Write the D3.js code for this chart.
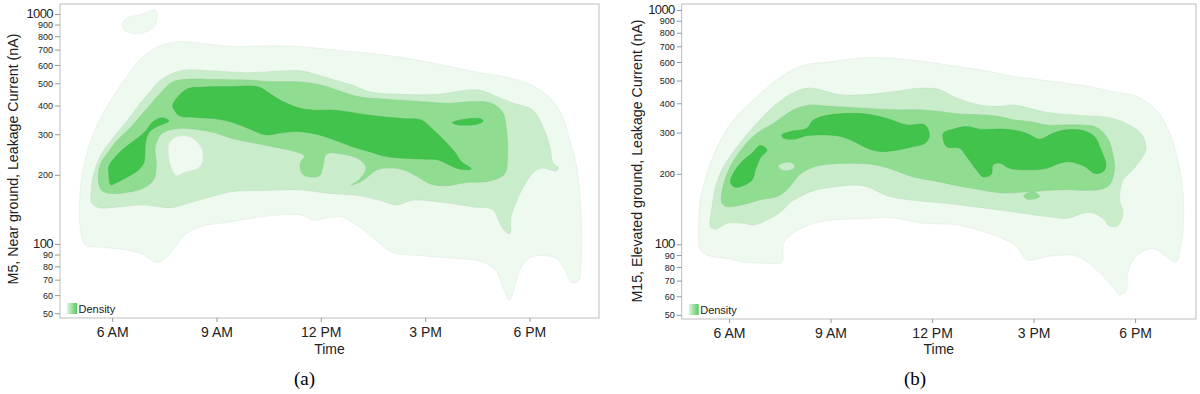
<!DOCTYPE html>
<html>
<head>
<meta charset="utf-8">
<script src="https://d3js.org/d3.v7.min.js"></script>
<style>
  body { margin: 0; background: #fff; }
  svg { display: block; font-family: "Liberation Sans", Arial, sans-serif; }
</style>
</head>
<body>
<script>
// ticks and labels
const times = [6, 9, 12, 15, 18];
const timeLabels = ["6 AM", "9 AM", "12 PM", "3 PM", "6 PM"];
const currentTicks = [50, 60, 70, 80, 90, 100, 200, 300, 400, 500, 600, 700, 800, 900, 1000];
const levelColors = ["#eef9ef", "#c9edca", "#90dd92", "#42c34c"];

// contour outlines, [hour of day, leakage current nA]
// (a) M5, near ground
const aL1 = [[6.94,664],[7.44,733],[7.94,758],[8.63,745],[9.43,722],[10.42,727],[11.41,722],[12.40,697],[13.40,675],[14.39,645],[15.38,605],[16.38,563],[17.37,530],[18.06,491],[18.56,437],[18.91,370],[19.16,283],[19.36,217],[19.46,155],[19.50,111],[19.48,80],[19.41,69],[19.21,68],[19.01,78],[18.76,87],[18.36,89],[18.06,88],[17.77,80],[17.55,63],[17.42,57],[17.27,63],[17.02,77],[16.62,84],[15.68,87],[14.89,89],[14.04,92],[13.65,102],[13.10,119],[12.60,131],[12.31,131],[11.81,127],[11.41,134],[10.42,132],[9.43,125],[8.53,119],[8.13,111],[7.74,94],[7.54,87],[7.29,83],[6.89,90],[6.45,94],[5.65,97],[5.23,99],[5.08,119],[5.06,145],[5.11,190],[5.25,240],[5.50,313],[5.85,395],[6.35,516]];
const aL1Top = [[6.30,911],[6.45,963],[6.84,995],[7.24,1041],[7.29,995],[7.24,897],[6.99,838],[6.60,824],[6.35,852]];
const aL2 = [[7.34,508],[7.74,552],[8.13,571],[8.93,565],[9.92,556],[10.91,565],[11.41,567],[11.91,543],[12.40,516],[12.90,491],[13.40,459],[14.39,447],[15.38,448],[16.08,464],[16.57,467],[17.07,437],[17.52,410],[18.10,382],[18.39,323],[18.59,264],[18.68,225],[18.84,214],[18.76,208],[18.56,211],[18.36,214],[18.10,204],[17.82,177],[17.64,155],[17.47,131],[17.44,111],[17.32,113],[17.15,123],[16.95,141],[16.38,145],[15.62,151],[14.64,155],[14.18,148],[13.69,155],[13.02,163],[12.25,166],[11.41,172],[10.42,171],[9.45,169],[8.87,161],[8.21,151],[7.72,144],[6.85,148],[6.19,145],[5.61,144],[5.41,151],[5.40,172],[5.45,196],[5.65,240],[6.05,292],[6.45,346],[6.84,415],[7.09,459]];
const aHole = [[7.64,274],[7.84,292],[8.23,292],[8.48,274],[8.61,248],[8.53,217],[8.13,206],[7.84,199],[7.69,217],[7.62,244]];
const aL3 = [[7.34,445],[7.74,506],[8.23,521],[8.93,519],[9.92,516],[10.62,508],[11.41,506],[12.01,491],[12.60,459],[13.10,437],[13.89,426],[14.89,416],[15.68,409],[16.38,416],[16.87,411],[17.22,376],[17.35,303],[17.37,240],[17.29,202],[16.87,188],[16.18,185],[15.58,179],[15.13,183],[14.79,196],[14.39,210],[13.99,214],[13.60,210],[13.35,196],[13.10,185],[12.88,181],[13.10,190],[13.30,214],[13.10,234],[12.60,246],[12.16,246],[12.06,217],[11.96,198],[11.66,196],[11.46,203],[11.41,225],[11.53,241],[11.31,251],[10.62,265],[10.02,276],[9.43,288],[8.93,305],[8.43,315],[7.94,318],[7.59,311],[7.39,298],[7.24,265],[7.27,217],[7.19,190],[6.89,175],[6.45,168],[5.95,166],[5.70,171],[5.60,190],[5.67,224],[5.90,252],[6.15,283],[6.50,318],[6.79,357],[7.06,397]];
const aL4 = [[7.74,402],[8.13,470],[8.63,481],[9.43,484],[10.22,481],[10.52,452],[10.91,416],[11.41,389],[11.81,382],[12.40,382],[13.40,363],[14.39,351],[14.89,346],[15.19,318],[15.58,279],[15.88,248],[16.03,229],[16.33,212],[15.98,212],[15.68,221],[15.38,232],[14.89,234],[14.39,236],[13.89,240],[13.40,252],[12.90,265],[12.40,283],[11.91,299],[11.41,308],[10.91,305],[10.42,298],[9.92,318],[9.43,339],[8.93,351],[8.43,355],[7.94,361],[7.79,382]];
const aL4Left = [[5.90,217],[6.10,240],[6.39,264],[6.76,291],[6.99,313],[7.14,337],[7.43,354],[7.63,343],[7.25,322],[7.05,304],[6.96,275],[6.91,225],[6.76,210],[6.45,196],[6.10,184],[5.96,181],[5.90,204]];
const aL4Dot = [[15.78,337],[16.08,348],[16.57,351],[16.67,343],[16.48,332],[15.98,329]];

// (b) M15, elevated ground
const bL1 = [[5.35,201],[5.65,261],[6.14,340],[6.73,414],[7.42,504],[8.10,575],[9.09,604],[10.07,626],[11.05,619],[11.94,598],[12.72,575],[13.70,547],[14.39,521],[15.18,504],[15.97,487],[16.65,472],[17.34,449],[18.03,428],[18.62,375],[19.01,301],[19.26,229],[19.41,171],[19.43,123],[19.36,101],[19.21,84],[18.91,89],[18.52,96],[18.03,89],[17.78,75],[17.73,63],[17.54,61],[17.34,66],[16.85,78],[16.26,89],[15.47,89],[14.79,86],[14.49,98],[13.71,111],[12.72,121],[11.74,123],[10.76,130],[10.07,129],[9.09,127],[8.50,123],[7.91,112],[7.61,101],[7.56,84],[7.12,83],[6.43,84],[5.94,87],[5.45,89],[5.15,95],[5.10,119],[5.15,155]];
const bL2 = [[5.50,145],[5.60,176],[5.84,215],[6.24,261],[6.73,318],[7.32,388],[7.81,437],[8.30,464],[8.69,457],[9.28,435],[9.97,435],[10.95,450],[11.64,464],[12.23,457],[12.72,421],[13.41,393],[14.00,388],[14.39,393],[14.88,381],[15.38,366],[16.36,355],[17.14,349],[17.64,333],[18.18,296],[18.32,261],[18.28,245],[17.93,208],[17.64,188],[17.54,155],[17.64,137],[17.49,120],[17.24,120],[17.05,129],[16.65,137],[15.97,129],[15.47,131],[14.00,140],[12.72,148],[10.76,160],[9.97,178],[8.99,175],[8.59,171],[8.10,160],[7.81,151],[7.51,137],[7.12,127],[6.73,121],[6.43,123],[5.94,123],[5.60,116],[5.45,119]];
const bL3 = [[5.79,150],[5.82,176],[6.04,215],[6.43,261],[6.83,298],[7.32,329],[7.91,375],[8.40,393],[8.99,388],[9.97,381],[10.95,375],[11.64,375],[12.23,369],[12.72,361],[13.41,357],[14.00,351],[14.39,340],[14.88,334],[15.38,323],[15.87,323],[16.36,323],[16.85,316],[17.19,283],[17.36,236],[17.39,208],[17.24,179],[16.99,172],[16.56,170],[15.87,171],[15.18,169],[14.39,166],[14.00,166],[13.41,171],[12.92,176],[12.43,182],[11.94,188],[11.44,194],[10.85,208],[10.36,218],[9.68,222],[8.99,220],[8.50,214],[8.10,199],[7.71,171],[7.42,160],[6.92,155],[6.43,148],[5.94,145]];
const bL3Dot = [[14.71,161],[14.84,166],[15.03,167],[15.18,160],[14.98,156],[14.79,156]];
const bHole = [[7.46,216],[7.66,223],[7.86,222],[7.93,215],[7.81,208],[7.56,208]];
const bL4Left = [[6.04,185],[6.19,208],[6.43,229],[6.68,245],[6.92,264],[7.12,253],[6.92,233],[6.78,208],[6.68,188],[6.33,176],[6.14,176]];
const bL4Mid = [[7.56,293],[7.81,303],[8.30,313],[8.50,340],[8.99,357],[9.97,361],[10.66,345],[11.25,323],[11.79,323],[11.92,290],[11.79,270],[11.44,261],[10.85,251],[10.46,249],[10.07,258],[9.68,275],[9.28,289],[8.79,293],[8.30,291],[7.91,281],[7.61,284]];
const bL4Right = [[12.33,298],[12.62,310],[13.02,318],[13.41,310],[14.20,310],[14.79,298],[15.18,281],[15.57,298],[15.97,308],[16.46,306],[16.80,288],[16.99,253],[17.14,218],[17.05,204],[16.80,201],[16.51,215],[16.06,225],[15.77,222],[15.38,211],[14.88,208],[14.30,211],[14.00,222],[13.80,218],[13.75,199],[13.51,194],[13.31,208],[13.02,237],[12.82,257],[12.43,261]];

var svg = d3.select("body").append("svg")
  .attr("width", 1200)
  .attr("height", 394);

var grad = svg.append("defs").append("linearGradient").attr("id", "densGrad");
grad.append("stop").attr("offset", "0%").attr("stop-color", "#e2f5e2");
grad.append("stop").attr("offset", "100%").attr("stop-color", "#55ca5e");

function drawPanel(p) {
  var g = svg.append("g");

  var x = d3.scaleLinear().domain(p.xDomain).range([p.left, p.right]);
  var y = d3.scaleLog().domain(p.yDomain).range([p.bottom, p.top]);

  var clipId = "clip-" + p.tag;
  svg.select("defs").append("clipPath").attr("id", clipId)
    .append("rect")
      .attr("x", p.left).attr("y", p.top)
      .attr("width", p.right - p.left).attr("height", p.bottom - p.top);

  var contour = d3.line()
    .x(function(d) { return x(d[0]); })
    .y(function(d) { return y(d[1]); })
    .curve(d3.curveCatmullRomClosed.alpha(0.5));

  var bands = g.append("g").attr("clip-path", "url(#" + clipId + ")");
  p.layers.forEach(function(l) {
    var c = levelColors[l[1]];
    bands.append("path")
      .attr("d", contour(l[0]))
      .attr("fill", c)
      .attr("stroke", d3.color(c).darker(0.25))
      .attr("stroke-opacity", 0.6)
      .attr("stroke-width", 0.7);
  });

  // frame
  g.append("rect")
    .attr("x", p.left).attr("y", p.top)
    .attr("width", p.right - p.left).attr("height", p.bottom - p.top)
    .attr("fill", "none")
    .attr("stroke", "#bdbdbd")
    .attr("stroke-width", 1);

  // y axis
  var ya = g.append("g")
    .attr("transform", "translate(" + p.left + ",0)")
    .call(d3.axisLeft(y).tickValues(currentTicks).tickFormat(function(d) { return d; }).tickSize(5).tickPadding(2));
  ya.select(".domain").remove();
  ya.selectAll(".tick line").attr("stroke", "#999");
  ya.selectAll(".tick text")
    .attr("fill", "#222")
    .attr("dy", function(d) { return (d === 100 || d === 1000) ? "0.28em" : "0.34em"; })
    .style("font-size", function(d) { return (d === 100 || d === 1000) ? "13px" : "9px"; })
    .style("letter-spacing", function(d) { return (d === 100 || d === 1000) ? "-0.6px" : "0px"; });

  // x axis
  var xa = g.append("g")
    .attr("transform", "translate(0," + p.bottom + ")")
    .call(d3.axisBottom(x).tickValues(times).tickFormat(function(d, i) { return timeLabels[i]; }).tickSize(4).tickPadding(5));
  xa.select(".domain").remove();
  xa.selectAll(".tick line").attr("stroke", "#999");
  xa.selectAll(".tick text").attr("fill", "#222").style("font-size", "14px");

  g.append("text")
    .attr("x", (p.left + p.right) / 2)
    .attr("y", 353.5)
    .attr("text-anchor", "middle")
    .attr("fill", "#222")
    .style("font-size", "14px")
    .text("Time");

  g.append("text")
    .attr("transform", "translate(" + p.titleX + "," + p.titleY + ")rotate(-90)")
    .attr("text-anchor", "middle")
    .attr("fill", "#222")
    .style("font-size", "14.2px")
    .text(p.yTitle);

  // legend
  g.append("rect")
    .attr("x", p.left + 7).attr("y", p.bottom - 15)
    .attr("width", 10).attr("height", 11)
    .attr("fill", "url(#densGrad)");
  g.append("text")
    .attr("x", p.left + 18.5).attr("y", p.bottom - 5)
    .attr("fill", "#222")
    .style("font-size", "11px")
    .text("Density");

  g.append("text")
    .attr("x", p.capX).attr("y", 385)
    .attr("text-anchor", "middle")
    .attr("fill", "#000")
    .style("font-family", "'Liberation Serif', 'Times New Roman', serif")
    .style("font-size", "19px")
    .text(p.caption);
}

drawPanel({
  tag: "a",
  left: 60, right: 599, top: 4, bottom: 318,
  xDomain: [4.5, 20], yDomain: [47.7, 1105],
  titleX: 18, titleY: 159,
  yTitle: "M5, Near ground, Leakage Current (nA)",
  capX: 304.5, caption: "(a)",
  layers: [[aL1, 0], [aL1Top, 0], [aL2, 1], [aHole, 0], [aL3, 2], [aL4, 3], [aL4Left, 3], [aL4Dot, 3]]
});

drawPanel({
  tag: "b",
  left: 681.7, right: 1196, top: 4, bottom: 319,
  xDomain: [4.6, 19.8], yDomain: [48, 1061],
  titleX: 641.5, titleY: 161,
  yTitle: "M15, Elevated ground, Leakage Current (nA)",
  capX: 915, caption: "(b)",
  layers: [[bL1, 0], [bL2, 1], [bL3, 2], [bL3Dot, 2], [bHole, 1], [bL4Left, 3], [bL4Mid, 3], [bL4Right, 3]]
});
</script>
</body>
</html>
